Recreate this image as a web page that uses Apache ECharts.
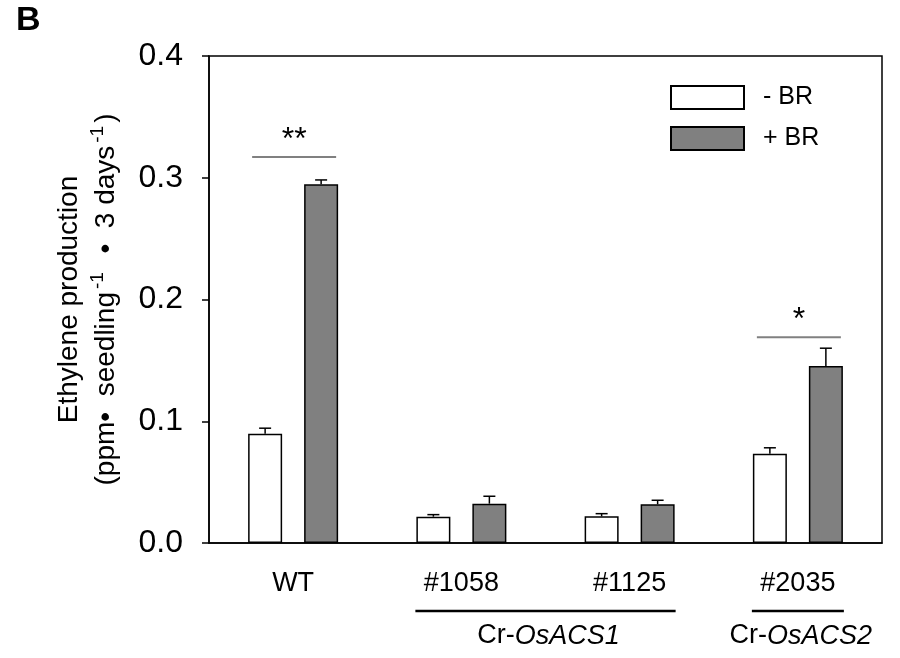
<!DOCTYPE html>
<html><head><meta charset="utf-8">
<script src="https://cdn.jsdelivr.net/npm/echarts@6/dist/echarts.min.js"></script>
<style>html,body{margin:0;padding:0;background:#fff}#c{width:900px;height:658px}</style>
</head><body><div id="c"></div>
<script>
// ---- data ----
const categories = ['WT', '#1058', '#1125', '#2035'];
const minusBR = [0.0897, 0.0216, 0.0219, 0.0733];
const minusBRErr = [0.0046, 0.0017, 0.0022, 0.0049];
const plusBR = [0.2947, 0.0323, 0.0318, 0.1453];
const plusBRErr = [0.0035, 0.0061, 0.0033, 0.0147];
const seriesNames = ['- BR', '+ BR'];
const sigCats = ['WT', '#2035'];
const sigLevels = [0.317, 0.169];
const sigLabels = ['**', '*'];
const groupFrom = ['#1058', '#2035'];
const groupTo = ['#1125', '#2035'];
const groupGenes = ['OsACS1', 'OsACS2'];

const FONT = '"Liberation Sans", Arial, sans-serif';
const BAR_W = 34, BAR_GAP = 22;
const OFF = (BAR_W + BAR_GAP) / 2;

const chart = echarts.init(document.getElementById('c'), null, {renderer: 'canvas'});

function errSeries(vals, errs, dx) {
  return {
    type: 'custom', z: 5, silent: true,
    data: vals.map((v, i) => [i, v, errs[i]]),
    renderItem: function (params, api) {
      const i = api.value(0), v = api.value(1), e = api.value(2);
      const b = api.coord([i, v]);
      const t = api.coord([i, v + e]);
      const x = b[0] + dx;
      return {type: 'group', children: [
        {type: 'line', shape: {x1: x, y1: b[1], x2: x, y2: t[1]}, style: {stroke: '#000', lineWidth: 1.5}},
        {type: 'line', shape: {x1: x - 6, y1: t[1], x2: x + 6, y2: t[1]}, style: {stroke: '#000', lineWidth: 1.5}}
      ]};
    }
  };
}

chart.setOption({
  animation: false,
  textStyle: {fontFamily: FONT},
  grid: {left: 209, right: 18, top: 56, bottom: 115, show: true, borderColor: '#000', borderWidth: 1.5, backgroundColor: 'transparent'},
  legend: {
    orient: 'vertical', left: 665, top: 80, itemWidth: 73, itemHeight: 23, itemGap: 16,
    icon: 'rect',
    data: seriesNames,
    textStyle: {fontFamily: FONT, fontSize: 25, color: '#000', padding: [0, 0, 0, 14]}
  },
  xAxis: {
    type: 'category', data: categories,
    axisLine: {lineStyle: {color: '#000', width: 1.5}},
    axisTick: {show: false},
    axisLabel: {fontFamily: FONT, fontSize: 27, color: '#000', margin: 27}
  },
  yAxis: {
    type: 'value', min: 0, max: 0.4, interval: 0.1,
    splitLine: {show: false},
    axisLine: {show: true, lineStyle: {color: '#000', width: 1.5}},
    axisTick: {show: true, inside: false, length: 7, lineStyle: {color: '#000', width: 1.5}},
    axisLabel: {fontFamily: FONT, fontSize: 32, color: '#000', margin: 26, formatter: v => v.toFixed(1)},
    name: '{a|Ethylene production}\n{a|(ppm•  seedling}{s|-1}{a|  •  3 days}{s|-1}{a|)}',
    nameLocation: 'middle', nameRotate: 90, nameGap: 84,
    nameTextStyle: {
      fontFamily: FONT, color: '#000',
      rich: {
        a: {fontFamily: FONT, fontSize: 28, color: '#000', lineHeight: 37},
        s: {fontFamily: FONT, fontSize: 19, color: '#000', verticalAlign: 'top', lineHeight: 37, padding: [0, 3, 10, 3]}
      }
    }
  },
  series: [
    {name: seriesNames[0], type: 'bar', data: minusBR, barWidth: BAR_W, barGap: (BAR_GAP / BAR_W * 100) + '%',
     itemStyle: {color: '#ffffff', borderColor: '#000', borderWidth: 1.5}},
    {name: seriesNames[1], type: 'bar', data: plusBR, barWidth: BAR_W,
     itemStyle: {color: '#808080', borderColor: '#000', borderWidth: 1.5}},
    errSeries(minusBR, minusBRErr, -OFF),
    errSeries(plusBR, plusBRErr, OFF)
  ]
});

// annotations placed through the chart's own scales
const graphics = [{
  type: 'text', left: 16, top: 4,
  style: {text: 'B', fontFamily: FONT, fontSize: 34, fontWeight: 'bold', fill: '#000'}
}];
sigCats.forEach((c, k) => {
  const p = chart.convertToPixel({xAxisIndex: 0, yAxisIndex: 0}, [c, sigLevels[k]]);
  graphics.push({type: 'line', shape: {x1: p[0] - 41, y1: p[1], x2: p[0] + 43, y2: p[1]}, style: {stroke: '#808080', lineWidth: 2}});
  graphics.push({type: 'text', x: p[0] + 1, y: p[1] - 17,
    style: {text: sigLabels[k], fontFamily: FONT, fontSize: 32, fill: '#000', align: 'center', verticalAlign: 'middle'}});
});
const y0 = chart.convertToPixel({yAxisIndex: 0}, 0);
groupFrom.forEach((c, k) => {
  const x1 = chart.convertToPixel({xAxisIndex: 0}, c) - 46;
  const x2 = chart.convertToPixel({xAxisIndex: 0}, groupTo[k]) + 46;
  graphics.push({type: 'line', shape: {x1: x1, y1: y0 + 68, x2: x2, y2: y0 + 68}, style: {stroke: '#000', lineWidth: 2.5}});
  graphics.push({type: 'text', x: (x1 + x2) / 2 + 3, y: y0 + 93,
    style: {text: '{n|Cr-}{i|' + groupGenes[k] + '}', align: 'center', verticalAlign: 'middle',
      rich: {n: {fontFamily: FONT, fontSize: 27, fill: '#000'}, i: {fontFamily: FONT, fontSize: 27, fontStyle: 'italic', fill: '#000'}}}});
});
chart.setOption({graphic: graphics});
</script>
</body></html>
